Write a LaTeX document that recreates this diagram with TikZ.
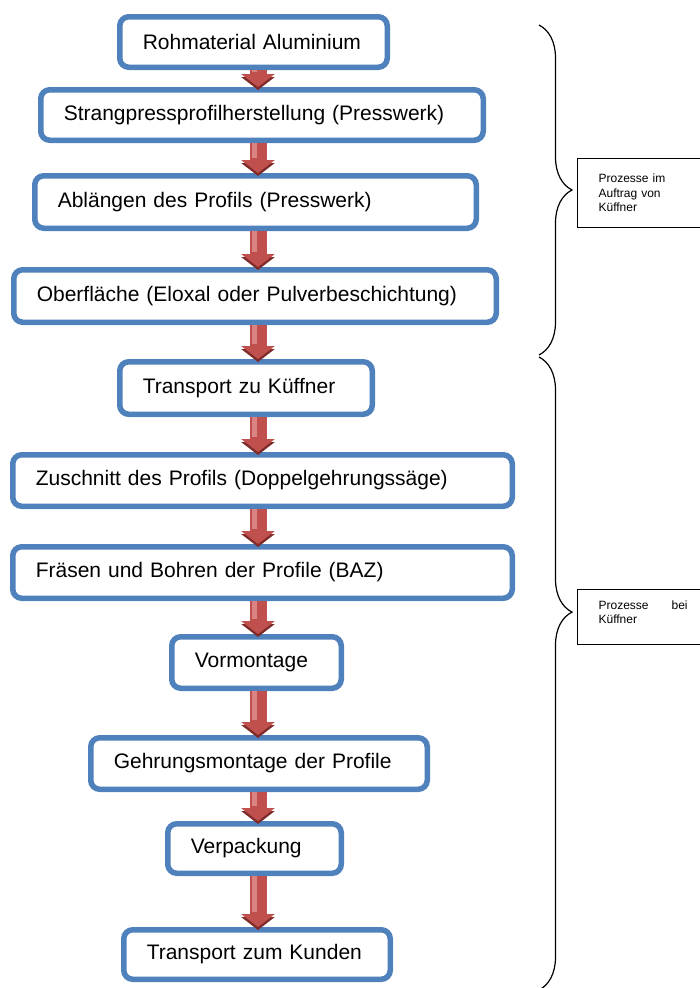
\documentclass[tikz,border=0pt]{standalone}
\usepackage{fontspec}
\setmainfont{Liberation Sans}
\usetikzlibrary{arrows.meta,decorations.pathreplacing}
\definecolor{boxblue}{HTML}{4F81BD}
\definecolor{arrowred}{HTML}{C0504D}
\definecolor{arrowlight}{HTML}{D98482}
\definecolor{arrowdark}{HTML}{7E2B29}

\begin{document}
\begin{tikzpicture}[x=1pt, y=-1pt,
    stepbox/.style={draw=boxblue, line width=5.5pt, rounded corners=9pt, fill=white,
        inner xsep=23pt, inner ysep=0pt, align=left, font=\fontsize{21}{25}\selectfont},
    flowarrow/.style={arrowred, line width=17pt, -{Triangle[width=33pt, length=13pt]},
        preaction={draw=arrowdark, line width=17pt, transform canvas={yshift=-3pt},
            -{Triangle[width=33pt, length=13pt]}},
        postaction={draw=arrowlight, line width=5pt, transform canvas={xshift=-4pt},
            shorten >=15pt, -}},
    curly/.style={decorate, decoration={brace, amplitude=33pt, aspect=#1}, line width=1.2pt},
    notebox/.style={draw=black, line width=1.2pt, anchor=north west, inner xsep=21pt,
        text width=100pt, align=left, font=\fontsize{12}{14.5}\selectfont}]

    \useasboundingbox (0,0) rectangle (699,988);
    \coordinate (axis) at (258,0);

    % Process steps
    \node[stepbox, text width=221.5pt, minimum height=50.5pt] (rohmaterial) at (253.5,42) {Rohmaterial Aluminium};
    \node[stepbox, text width=396.5pt, minimum height=50.5pt] (strangpress) at (262,115) {Strangpressprofilherstellung (Presswerk)};
    \node[stepbox, text width=395.5pt, minimum height=52.5pt] (ablaengen) at (255.5,202) {Ablängen des Profils (Presswerk)};
    \node[stepbox, text width=436.5pt, minimum height=52.5pt] (oberflaeche) at (255,296) {Oberfläche (Eloxal oder Pulverbeschichtung)};
    \node[stepbox, text width=206.5pt, minimum height=52.5pt] (transportk) at (246,388) {Transport zu Küffner};
    \node[stepbox, text width=453.5pt, minimum height=51.5pt] (zuschnitt) at (262.5,480.5) {Zuschnitt des Profils (Doppelgehrungssäge)};
    \node[stepbox, text width=453.5pt, minimum height=51.5pt] (fraesen) at (262.5,572.5) {Fräsen und Bohren der Profile (BAZ)};
    \node[stepbox, text width=123.5pt, minimum height=51.5pt] (vormontage) at (256.5,662.5) {Vormontage};
    \node[stepbox, text width=290.5pt, minimum height=51.5pt] (gehrung) at (259,763.5) {Gehrungsmontage der Profile};
    \node[stepbox, text width=127.5pt, minimum height=49.5pt] (verpackung) at (254.5,848.5) {Verpackung};
    \node[stepbox, text width=220.5pt, minimum height=49.5pt] (transportkunde) at (257,954.5) {Transport zum Kunden};

    % Arrows between the steps
    \draw[flowarrow] (rohmaterial.south -| axis) -- (strangpress.north -| axis);
    \draw[flowarrow] (strangpress.south -| axis) -- (ablaengen.north -| axis);
    \draw[flowarrow] (ablaengen.south -| axis) -- (oberflaeche.north -| axis);
    \draw[flowarrow] (oberflaeche.south -| axis) -- (transportk.north -| axis);
    \draw[flowarrow] (transportk.south -| axis) -- (zuschnitt.north -| axis);
    \draw[flowarrow] (zuschnitt.south -| axis) -- (fraesen.north -| axis);
    \draw[flowarrow] (fraesen.south -| axis) -- (vormontage.north -| axis);
    \draw[flowarrow] (vormontage.south -| axis) -- (gehrung.north -| axis);
    \draw[flowarrow] (gehrung.south -| axis) -- (verpackung.north -| axis);
    \draw[flowarrow] (verpackung.south -| axis) -- (transportkunde.north -| axis);

    % Braces with their notes
    \draw[curly=0.5] (539,25) -- (539,355);
    \draw[curly=0.403] (539,357) -- (539,990);
    \node[notebox, minimum height=68.8pt] (auftrag) at (577,158) {Prozesse im\\Auftrag von\\Küffner};
    \node[notebox, minimum height=54.8pt] (bei) at (577,589) {\makebox[89pt][s]{Prozesse\hfill bei}\\Küffner\\[-5pt]\mbox{}};

\end{tikzpicture}
\end{document}
